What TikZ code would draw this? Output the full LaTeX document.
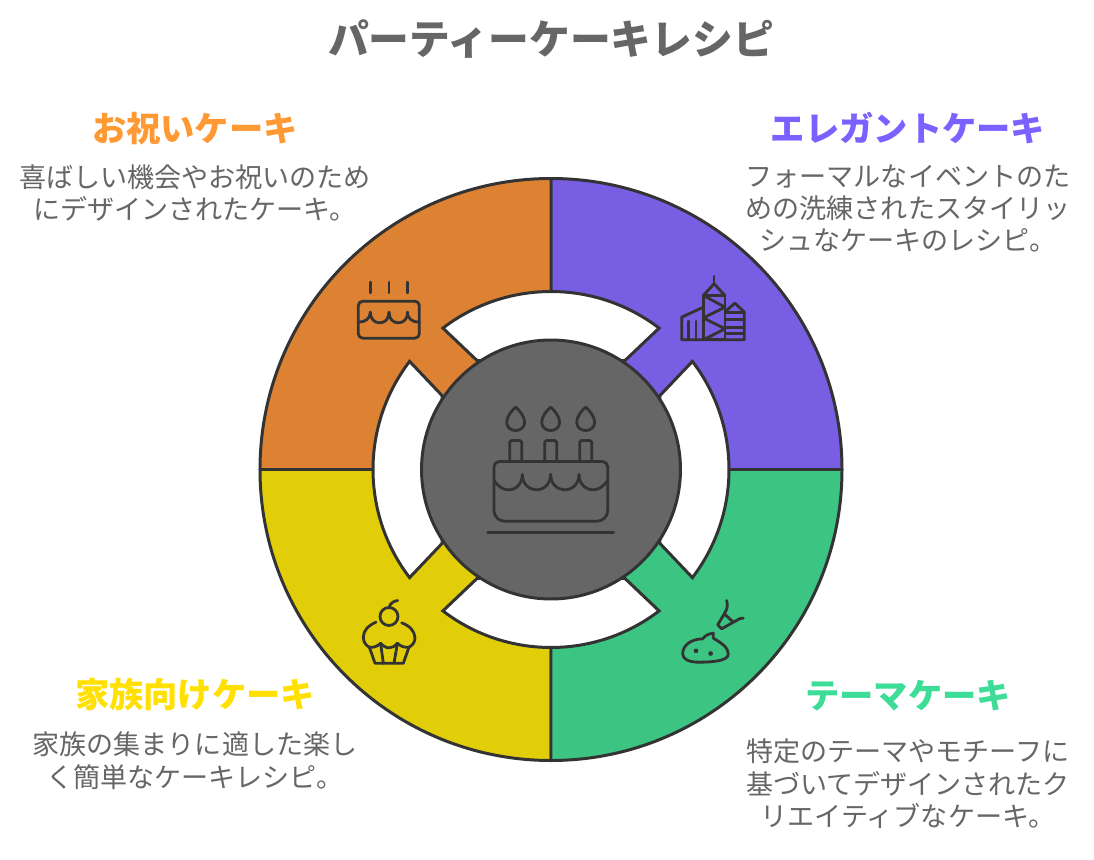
\documentclass[tikz,border=0pt]{standalone}
\usepackage{fontspec}
\usepackage{xcolor}
\setmainfont{Noto Sans CJK JP}
\usetikzlibrary{positioning}
\definecolor{inkdark}{HTML}{333333}
\definecolor{textgray}{HTML}{666666}
\definecolor{hubgray}{HTML}{666666}
\definecolor{orangefill}{HTML}{DD8232}
\definecolor{purplefill}{HTML}{785EE3}
\definecolor{greenfill}{HTML}{3CC482}
\definecolor{yellowfill}{HTML}{E2CE08}
\definecolor{orangehead}{HTML}{FF9933}
\definecolor{purplehead}{HTML}{7B61FF}
\definecolor{greenhead}{HTML}{3DDC97}
\definecolor{yellowhead}{HTML}{FFE000}
\tikzset{
    quadrant/.style={draw=inkdark, line width=1.7pt, line join=round},
    gapseg/.style={draw=inkdark, line width=1.7pt, fill=white, line join=miter},
    iconline/.style={draw=inkdark, line width=1.6pt, line cap=round, line join=round},
    titlelbl/.style={inner sep=0pt, text=textgray, font=\fontsize{23.2}{27}\selectfont\bfseries},
    headlbl/.style={inner sep=0pt, font=\fontsize{19.5}{23}\selectfont\bfseries},
    bodylbl/.style={inner sep=0pt, align=center, text=textgray, font=\fontsize{15.4}{18.3}\selectfont}
}
\begin{document}
\begin{tikzpicture}[x=0.02cm, y=0.02cm]
  \path[use as bounding box, fill=white] (-551,-389.5) rectangle (543,469.5);
  % quadrants
  \draw[quadrant, fill=purplefill] (0,0) -- (0,291) arc[start angle=90, end angle=0, radius=291] -- cycle;
  \draw[quadrant, fill=orangefill] (0,0) -- (0,291) arc[start angle=90, end angle=180, radius=291] -- cycle;
  \draw[quadrant, fill=yellowfill] (0,0) -- (-291,0) arc[start angle=180, end angle=270, radius=291] -- cycle;
  \draw[quadrant, fill=greenfill] (0,0) -- (0,-291) arc[start angle=270, end angle=360, radius=291] -- cycle;
  % white gaps
  \foreach \a in {0,90,180,270}
    \draw[gapseg, rotate=\a] (52.6:178) arc[start angle=52.6, end angle=127.4, radius=178] -- (-74,109) -- (74,109) -- cycle;
  \node[circle, draw=inkdark, line width=1.7pt, fill=hubgray, minimum size=5.18cm, inner sep=0pt] (hub) at (0,0) {};
  % big cake
  \begin{scope}[shift={(-81,79)}, xscale=1/3, yscale=-1/3, iconline]
    \draw[rounded corners=3pt] (72,280) -- (72,213) -- (413,213) -- (413,280);
    \draw[rounded corners=6pt] (72,280) -- (72,392) -- (413,392) -- (413,280);
    \foreach \x in {137,242,347} {
      \draw[rounded corners=1pt] (\x-18,213) -- (\x-18,150) -- (\x+18,150) -- (\x+18,213);
      \draw (\x,50) .. controls (\x+10,58) and (\x+27,78) .. (\x+27,95) .. controls (\x+27,112) and (\x+13,120) .. (\x,120) .. controls (\x-13,120) and (\x-27,112) .. (\x-27,95) .. controls (\x-27,78) and (\x-10,58) .. (\x,50) -- cycle;
    }
    \draw (72,270) .. controls (84,288) and (100,298) .. (115,298) .. controls (138,298) and (157,280) .. (157,252);
    \foreach \x in {157,242} \draw (\x,252) .. controls (\x,280) and (\x+20,298) .. (\x+42,298) .. controls (\x+65,298) and (\x+85,280) .. (\x+85,252);
    \draw (327,252) .. controls (327,280) and (347,298) .. (370,298) .. controls (385,298) and (401,288) .. (413,270);
    \draw (53,425) -- (431,425);
  \end{scope}
  % celebration cake
  \begin{scope}[shift={(-211,204)}, xscale=1/3, yscale=-1/3, iconline]
    \draw[rounded corners=2.5pt] (55,107) rectangle (238,218);
    \foreach \x in {91,147,202} \draw (\x,50) -- (\x,82);
    \draw (55,170) .. controls (75,170) and (91,160) .. (91,140);
    \foreach \x in {91,147} \draw (\x,140) .. controls (\x,160) and (\x+12,172) .. (\x+28,172) .. controls (\x+44,172) and (\x+56,160) .. (\x+56,140);
    \draw (202,140) .. controls (202,160) and (218,170) .. (238,170);
  \end{scope}
  % towers
  \begin{scope}[shift={(109,209)}, xscale=1/3, yscale=-1/3, iconline]
    \draw (162,47) -- (162,70);
    \draw (130,105) -- (162,70) -- (195,105);
    \draw (130,105) rectangle (195,238);
    \draw (130,105) -- (195,140) -- (130,172) -- (195,205) -- (130,238);
    \draw (130,140) -- (65,170) -- (65,238) -- (253,238) -- (253,155) -- (225,128) -- (197,152);
    \draw (85,182) -- (85,238);
    \draw (108,182) -- (108,238);
    \foreach \y in {155,178,200,218} \draw (197,\y) -- (253,\y);
  \end{scope}
  % cupcake
  \begin{scope}[shift={(-211,-121)}, xscale=1/3, yscale=-1/3, iconline]
    \draw (147,78) circle[radius=27];
    \draw (147,52) .. controls (150,38) and (160,32) .. (173,30);
    \draw (108,95) .. controls (85,105) and (70,120) .. (70,140) .. controls (70,155) and (78,165) .. (88,170);
    \draw (185,97) .. controls (208,105) and (225,122) .. (225,143) .. controls (225,155) and (217,165) .. (207,170);
    \draw (88,170) .. controls (100,172) and (112,168) .. (122,158) .. controls (130,168) and (140,172) .. (147,172) .. controls (155,172) and (165,168) .. (172,158) .. controls (182,168) and (195,172) .. (207,170);
    \draw (88,170) -- (105,218) -- (190,218) -- (207,170);
    \draw (122,160) -- (130,218);
    \draw (172,160) -- (162,218);
  \end{scope}
  % dollop and piping bag
  \begin{scope}[shift={(109,-121)}, xscale=1/3, yscale=-1/3, iconline]
    \draw (160,128) .. controls (145,130) and (135,135) .. (128,145) .. controls (100,145) and (68,160) .. (68,190) .. controls (68,205) and (85,215) .. (115,215) .. controls (165,215) and (205,210) .. (205,190) .. controls (205,170) and (180,155) .. (160,143) -- cycle;
    \fill[inkdark] (108,181) circle[radius=7];
    \fill[inkdark] (152,189) circle[radius=7];
    \draw (200,30) .. controls (204,45) and (202,55) .. (193,70);
    \draw (193,70) -- (220,95) -- (185,115) -- (173,103) -- cycle;
    \draw (220,95) .. controls (232,90) and (238,82) .. (250,83);
  \end{scope}
  % labels
  \node[titlelbl] (title) at (0,431) {パーティーケーキレシピ};
  \node[headlbl, text=orangehead] (celebrate) at (-356,341) {お祝いケーキ};
  \node[bodylbl, below=0.39cm of celebrate] (celebratetxt) {喜ばしい機会やお祝いのため\\にデザインされたケーキ。};
  \node[headlbl, text=purplehead] (elegant) at (357,341) {エレガントケーキ};
  \node[bodylbl, below=0.39cm of elegant] (eleganttxt) {フォーマルなイベントのた\\めの洗練されたスタイリッ\\シュなケーキのレシピ。};
  \node[headlbl, text=yellowhead] (family) at (-356,-225) {家族向けケーキ};
  \node[bodylbl, below=0.41cm of family] (familytxt) {家族の集まりに適した楽し\\く簡単なケーキレシピ。};
  \node[headlbl, text=greenhead] (theme) at (357,-226) {テーマケーキ};
  \node[bodylbl, below=0.55cm of theme] (themetxt) {特定のテーマやモチーフに\\基づいてデザインされたク\\リエイティブなケーキ。};
\end{tikzpicture}
\end{document}
